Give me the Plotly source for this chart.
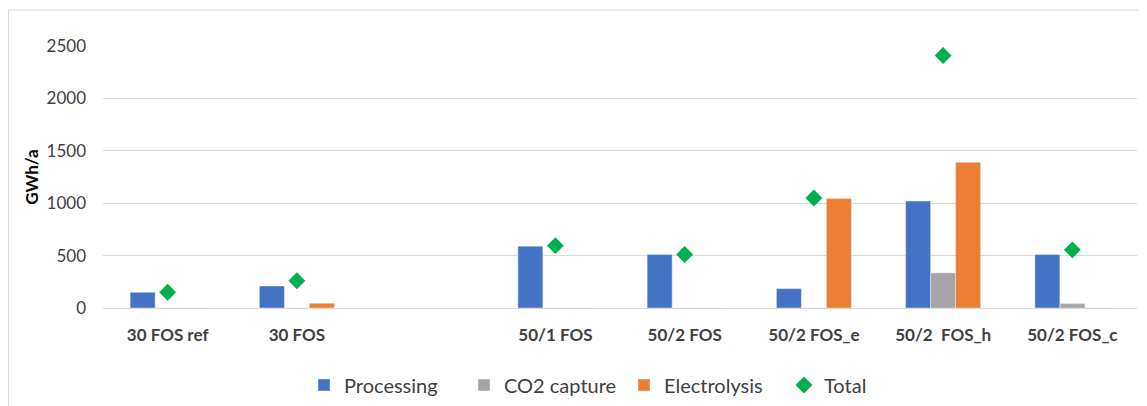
import plotly.graph_objects as go

categories = ["30 FOS ref", "30 FOS", " ", "50/1 FOS", "50/2 FOS", "50/2 FOS_e", "50/2\u00a0 FOS_h", "50/2 FOS_c"]
processing = [150, 210, None, 590, 510, 185, 1020, 510]
co2_capture = [0, 0, None, 0, 0, 0, 335, 42]
electrolysis = [0, 45, None, 0, 0, 1045, 1390, 0]
total = [150, 260, None, 595, 510, 1050, 2410, 555]
y_ticks = [0, 500, 1000, 1500, 2000, 2500]

FONT = "Lato, 'Open Sans', sans-serif"
TXT = "#404040"

fig = go.Figure()
fig.add_trace(go.Bar(name="Processing", x=categories, y=processing, marker_color="#4472c4"))
fig.add_trace(go.Bar(name="CO2 capture", x=categories, y=co2_capture, marker_color="#a5a5a5"))
fig.add_trace(go.Bar(name="Electrolysis", x=categories, y=electrolysis, marker_color="#ed7d31"))
fig.add_trace(go.Scatter(name="Total", x=categories, y=total, mode="markers",
                         marker=dict(symbol="diamond", size=13, color="#00b050")))

OFF = 8  # page body margin
W, H = 1147 - OFF, 406 - OFF
L, T = 103 - OFF, 46 - OFF
R = W - (1137 - OFF)
B = H - (308 - OFF)
pw, ph = W - L - R, H - T - B

def px(x):
    return (x - OFF - L) / pw

def py(y):
    return (H - B - (y - OFF)) / ph

fig.update_layout(
    width=W, height=H,
    margin=dict(l=L, r=R, t=T, b=B, autoexpand=False),
    paper_bgcolor="white", plot_bgcolor="white",
    barmode="group", bargap=0.42, bargroupgap=0,
    font=dict(family=FONT, color=TXT, size=16),
    showlegend=True,
    legend=dict(orientation="h", x=px(304), xanchor="left", y=py(385), yanchor="middle",
                font=dict(size=20, color=TXT), traceorder="normal", itemwidth=30,
                entrywidth=115, entrywidthmode="pixels"),
    xaxis=dict(type="category", categoryorder="array", categoryarray=categories,
               showgrid=False, showline=False, zeroline=False, automargin=False,
               tickfont=dict(size=17, weight="bold", color=TXT, family=FONT),
               ticks="", ticklabelstandoff=15),
    yaxis=dict(range=[0, 2500], tickvals=y_ticks, showgrid=True, gridcolor="#d9d9d9", gridwidth=1,
               zeroline=True, zerolinecolor="#d9d9d9", zerolinewidth=1, showline=False,
               automargin=False,
               tickfont=dict(size=17, color=TXT, family=FONT), ticks="", ticklabelstandoff=16,
               title=dict(text="GWh/a", font=dict(size=17, weight="bold", color="black", family=FONT),
                          standoff=3)),
    shapes=[
        dict(type="line", xref="paper", yref="paper", x0=px(8), x1=px(1147), y0=py(10), y1=py(10),
             line=dict(color="#d9d9d9", width=1)),
        dict(type="line", xref="paper", yref="paper", x0=px(8.5), x1=px(8.5), y0=py(10), y1=py(406),
             line=dict(color="#d9d9d9", width=1)),
    ],
)

fig.write_html("out.html")
